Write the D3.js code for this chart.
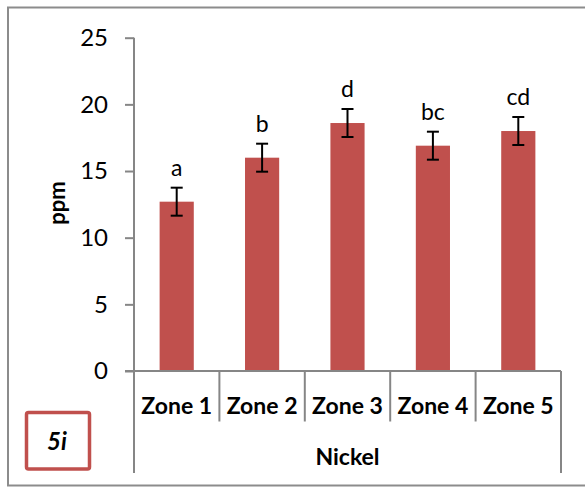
<!DOCTYPE html>
<html>
<head>
<meta charset="utf-8">
<script src="https://cdn.jsdelivr.net/npm/d3@7"></script>
<style>
  html, body { margin: 0; padding: 0; background: #fff; }
  svg { display: block; }
  text { font-family: Lato, "Open Sans", sans-serif; fill: #000; }
</style>
</head>
<body>
<svg id="chart" width="585" height="487"></svg>
<script>
// Nickel concentration by zone (ppm), with standard error and significance letters
const zones = ["Zone 1", "Zone 2", "Zone 3", "Zone 4", "Zone 5"];
const means = [12.7, 16.0, 18.6, 16.9, 18.0];
const errors = [1.05, 1.05, 1.05, 1.05, 1.05];
const letters = ["a", "b", "d", "bc", "cd"];
const yTicks = [0, 5, 10, 15, 20, 25];
const groupLabel = "Nickel";
const yLabel = "ppm";
const panelTag = "5i";

const svg = d3.select("#chart");
const axisColor = "#868686";
const barColor = "#c0504d";

// chart frame
svg.append("rect")
  .attr("x", 8).attr("y", 7.5)
  .attr("width", 600).attr("height", 478)
  .attr("fill", "none").attr("stroke", "#8c8c8c").attr("stroke-width", 2);

const plotLeft = 134, plotRight = 561;
const y = d3.scaleLinear().domain([0, 25]).range([371, 37.7]);
const x = d3.scaleBand().domain(zones).range([plotLeft, plotRight]).padding(0);
const barW = x.bandwidth() * 0.4;

// y axis
const yAxis = d3.axisLeft(y).tickValues(yTicks).tickSize(9).tickPadding(17)
  .tickFormat(d3.format("d"));
const yg = svg.append("g").attr("transform", `translate(${plotLeft},0)`).call(yAxis);
yg.select(".domain").attr("stroke", axisColor).attr("stroke-width", 2)
  .attr("d", `M0,${y(25)}V${y(0)}`);
yg.selectAll(".tick line").attr("stroke", axisColor).attr("stroke-width", 2);
yg.selectAll(".tick text").attr("font-size", 24).attr("font-family", "Lato, sans-serif")
  .attr("fill", "#000");

// y axis title
svg.append("text")
  .attr("transform", `translate(65,${203}) rotate(-90)`)
  .attr("text-anchor", "middle")
  .attr("font-size", 22).attr("font-weight", "bold")
  .text(yLabel);

// bars
svg.append("g").selectAll("rect").data(zones).join("rect")
  .attr("x", d => x(d) + (x.bandwidth() - barW) / 2)
  .attr("y", (d, i) => y(means[i]))
  .attr("width", barW)
  .attr("height", (d, i) => y(0) - y(means[i]))
  .attr("fill", barColor);

// error bars
const capW = 12;
const eg = svg.append("g").attr("stroke", "#000").attr("stroke-width", 2);
zones.forEach((z, i) => {
  const cx = x(z) + x.bandwidth() / 2;
  const top = y(means[i] + errors[i]), bot = y(means[i] - errors[i]);
  eg.append("line").attr("x1", cx).attr("x2", cx).attr("y1", top).attr("y2", bot);
  eg.append("line").attr("x1", cx - capW / 2).attr("x2", cx + capW / 2).attr("y1", top).attr("y2", top);
  eg.append("line").attr("x1", cx - capW / 2).attr("x2", cx + capW / 2).attr("y1", bot).attr("y2", bot);
});

// significance letters
svg.append("g").selectAll("text").data(zones).join("text")
  .attr("x", d => x(d) + x.bandwidth() / 2)
  .attr("y", (d, i) => y(means[i] + errors[i]) - 12)
  .attr("text-anchor", "middle")
  .attr("font-size", 23)
  .text((d, i) => letters[i]);

// category axis: baseline, dividers, labels
const ag = svg.append("g").attr("stroke", axisColor).attr("stroke-width", 2);
ag.append("line").attr("x1", plotLeft - 9).attr("x2", plotRight).attr("y1", y(0)).attr("y2", y(0));
const bounds = zones.map(z => x(z)).concat([plotRight]);
bounds.forEach((bx, i) => {
  const outer = i === 0 || i === bounds.length - 1;
  ag.append("line").attr("x1", bx).attr("x2", bx)
    .attr("y1", y(0)).attr("y2", outer ? 473 : 421.5);
});

svg.append("g").selectAll("text").data(zones).join("text")
  .attr("x", d => x(d) + x.bandwidth() / 2)
  .attr("y", 414)
  .attr("text-anchor", "middle")
  .attr("font-size", 23).attr("font-weight", "bold")
  .text(d => d);

svg.append("text")
  .attr("x", (plotLeft + plotRight) / 2)
  .attr("y", 465)
  .attr("text-anchor", "middle")
  .attr("font-size", 23).attr("font-weight", "bold")
  .text(groupLabel);

// panel tag box
svg.append("rect")
  .attr("x", 26.5).attr("y", 412.5).attr("width", 63).attr("height", 56.5)
  .attr("rx", 2)
  .attr("fill", "#fff").attr("stroke", barColor).attr("stroke-width", 3.5);
svg.append("text")
  .attr("x", 57).attr("y", 450)
  .attr("text-anchor", "middle")
  .attr("font-size", 24).attr("font-weight", "bold").attr("font-style", "italic")
  .text(panelTag);
</script>
</body>
</html>
